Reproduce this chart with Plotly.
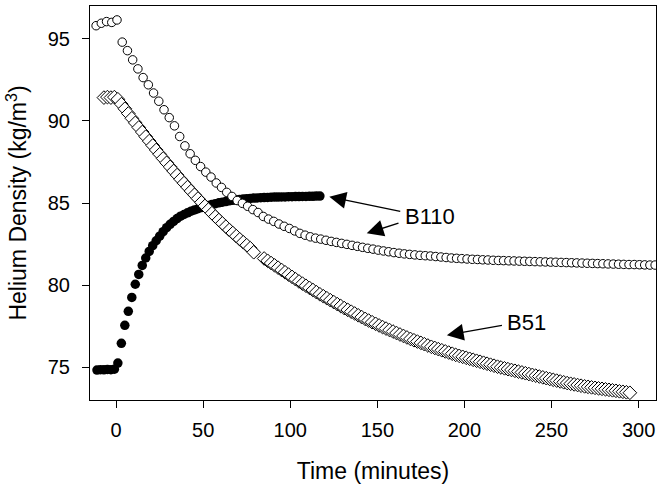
import plotly.graph_objects as go

# B110 open circles (time in minutes, density kg/m3)
b110_open_t = [-11.5, -8.5, -5.5, -2.5, 0.5, 3.5, 6.5, 9.5, 12.5, 15.5, 18.5, 21.5, 24.5, 27.5, 30.5,
               33.5, 36.5, 39.5, 42.5, 45.5, 48.5, 51.5, 54.5, 57.5, 60.5, 63.5, 66.5, 69.5, 72.5, 75.5,
               78.5, 81.5, 84.5, 87.5, 90.5, 93.5, 96.5, 99.5, 102.5, 105.5, 108.5, 111.5, 114.5, 117.5,
               120.5, 123.5, 126.5, 129.5, 132.5, 135.5, 138.5, 141.5, 144.5, 147.5, 150.5, 153.5, 156.5,
               159.5, 162.5, 165.5, 168.5, 171.5, 174.5, 177.5, 180.5, 183.5, 186.5, 189.5, 192.5, 195.5,
               198.5, 201.5, 204.5, 207.5, 210.5, 213.5, 216.5, 219.5, 222.5, 225.5, 228.5, 231.5, 234.5,
               237.5, 240.5, 243.5, 246.5, 249.5, 252.5, 255.5, 258.5, 261.5, 264.5, 267.5, 270.5, 273.5,
               276.5, 279.5, 282.5, 285.5, 288.5, 291.5, 294.5, 297.5, 300.5, 303.5, 306.5, 309.5]
b110_open_y = [95.8, 95.95, 96.05, 96.0, 96.15, 94.8, 94.28, 93.72, 93.17, 92.64, 92.2, 91.7, 91.2, 90.68, 90.2,
               89.7, 89.05, 88.48, 88.0, 87.6, 87.22, 86.88, 86.58, 86.22, 85.95, 85.65, 85.4, 85.15, 84.98, 84.8,
               84.6, 84.42, 84.18, 84.02, 83.88, 83.72, 83.58, 83.45, 83.3, 83.15, 83.04, 82.94, 82.86, 82.8,
               82.73, 82.66, 82.6, 82.54, 82.48, 82.42, 82.36, 82.3, 82.24, 82.19, 82.13, 82.08, 82.03,
               81.98, 81.94, 81.9, 81.87, 81.84, 81.81, 81.79, 81.77, 81.74, 81.71, 81.68, 81.65, 81.63,
               81.61, 81.59, 81.57, 81.56, 81.54, 81.53, 81.51, 81.5, 81.49, 81.48, 81.47, 81.46, 81.45,
               81.44, 81.43, 81.42, 81.41, 81.4, 81.39, 81.38, 81.37, 81.36, 81.35, 81.34, 81.33, 81.32,
               81.31, 81.3, 81.29, 81.28, 81.27, 81.26, 81.25, 81.25, 81.24, 81.23, 81.22, 81.22]

# B110 filled circles
b110_fill_t = [-11, -9, -7, -5, -3, -1, 1, 3, 5, 7, 9, 11, 13, 15, 17, 19, 21, 23, 25, 27, 29, 31, 33, 35,
               37, 39, 41, 43, 45, 47, 49, 51, 53, 55, 57, 59, 61, 63, 65, 67, 69, 71, 73, 75, 77, 79, 81,
               83, 85, 87, 89, 91, 93, 95, 97, 99, 101, 103, 105, 107, 109, 111, 113, 115, 117]
b110_fill_y = [74.82, 74.85, 74.84, 74.86, 74.85, 74.88, 75.25, 76.45, 77.55, 78.4, 79.25, 80.05, 80.65,
               81.2, 81.65, 82.05, 82.4, 82.7, 82.98, 83.25, 83.5, 83.7, 83.88, 84.05, 84.2, 84.3, 84.4,
               84.5, 84.58, 84.65, 84.72, 84.79, 84.85, 84.91, 84.96, 85.01, 85.05, 85.09, 85.13, 85.16,
               85.19, 85.22, 85.24, 85.26, 85.28, 85.3, 85.31, 85.32, 85.33, 85.34, 85.35, 85.36, 85.36,
               85.37, 85.37, 85.38, 85.38, 85.39, 85.39, 85.4, 85.4, 85.41, 85.41, 85.42, 85.42]

# B51 open diamonds
b51_t = [-7, -5, -3, -1, 1, 3, 5, 7, 9, 11, 13, 15, 17, 19, 21, 23, 25, 27, 29, 31, 33, 35, 37, 39, 41,
         43, 45, 47, 49, 51, 53, 55, 57, 59, 61, 63, 65, 67, 69, 71, 73, 75, 77, 79,
         85, 87, 89, 91, 93, 95, 97, 99, 101, 103, 105, 107, 109, 111, 113, 115, 117, 119, 121, 123,
         125, 127, 129, 131, 133, 135, 137, 139, 141, 143, 145, 147, 149, 151, 153, 155, 157, 159, 161,
         163, 165, 167, 169, 171, 173, 175, 177, 179, 181, 183, 185, 187, 189, 191, 193, 195, 197, 199,
         201, 203, 205, 207, 209, 211, 213, 215, 217, 219, 221, 223, 225, 227, 229, 231, 233, 235, 237,
         239, 241, 243, 245, 247, 249, 251, 253, 255, 257, 259, 261, 263, 265, 267, 269, 271, 273, 275,
         277, 279, 281, 283, 285, 287, 289, 291, 293, 295]
b51_y = [91.42, 91.45, 91.42, 91.45, 91.32, 91.02, 90.74, 90.45, 90.16, 89.88, 89.6, 89.32, 89.04, 88.77,
         88.5, 88.23, 87.97, 87.71, 87.45, 87.2, 86.95, 86.7, 86.45, 86.21, 85.97, 85.73, 85.5, 85.27,
         85.04, 84.82, 84.6, 84.38, 84.17, 83.96, 83.76, 83.56, 83.36, 83.17, 82.98, 82.79, 82.61, 82.43,
         82.25, 82.0,
         81.62, 81.48, 81.34, 81.2, 81.06, 80.92, 80.78, 80.64, 80.5, 80.36, 80.22, 80.09, 79.96, 79.83,
         79.7, 79.57, 79.44, 79.32, 79.2, 79.08, 78.96, 78.84, 78.72, 78.6, 78.49, 78.38, 78.27, 78.16,
         78.05, 77.94, 77.84, 77.74, 77.64, 77.54, 77.44, 77.35, 77.26, 77.17, 77.08, 76.99, 76.9, 76.81,
         76.72, 76.64, 76.56, 76.48, 76.4, 76.32, 76.24, 76.17, 76.1, 76.03, 75.96, 75.89, 75.82, 75.75,
         75.69, 75.63, 75.57, 75.51, 75.45, 75.39, 75.33, 75.27, 75.21, 75.15, 75.09, 75.03, 74.98, 74.93,
         74.88, 74.83, 74.78, 74.73, 74.68, 74.63, 74.58, 74.53, 74.48, 74.43, 74.38, 74.33, 74.28, 74.23,
         74.18, 74.13, 74.08, 74.03, 73.99, 73.95, 73.91, 73.87, 73.83, 73.8, 73.77, 73.74, 73.71, 73.68,
         73.65, 73.62, 73.59, 73.56, 73.53, 73.5, 73.47, 73.44]

assert len(b110_open_t) == len(b110_open_y)
assert len(b110_fill_t) == len(b110_fill_y)
assert len(b51_t) == len(b51_y)

x_ticks = [0, 50, 100, 150, 200, 250, 300]
y_ticks = [75, 80, 85, 90, 95]

FONT = "Liberation Sans, Arial, sans-serif"

fig = go.Figure()
fig.add_trace(go.Scatter(x=b110_fill_t, y=b110_fill_y, mode="markers", cliponaxis=True,
                         marker=dict(symbol="circle", size=9.5, color="black",
                                     line=dict(color="black", width=0))))
fig.add_trace(go.Scatter(x=b110_open_t, y=b110_open_y, mode="markers", cliponaxis=True,
                         marker=dict(symbol="circle", size=8.5, color="white",
                                     line=dict(color="black", width=1))))
fig.add_trace(go.Scatter(x=b51_t, y=b51_y, mode="markers", cliponaxis=True,
                         marker=dict(symbol="diamond", size=10.5, color="white",
                                     line=dict(color="black", width=1))))

arrows = [
    # (tail_x, tail_y, tip_x, tip_y)
    (164.0, 84.47, 122.4, 85.38),
    (163.0, 83.8, 143.9, 83.15),
    (222.4, 77.56, 189.9, 76.95),
]
for tx, ty, hx, hy in arrows:
    fig.add_annotation(x=hx, y=hy, ax=tx, ay=ty, xref="x", yref="y", axref="x", ayref="y",
                       text="", showarrow=True, arrowhead=2, arrowsize=2.4, arrowwidth=1.4,
                       arrowcolor="black", standoff=0, startstandoff=0)

labels = [("B110", 180.3, 84.2), ("B51", 235.5, 77.74)]
for txt, lx, ly in labels:
    fig.add_annotation(x=lx, y=ly, xref="x", yref="y", text=txt, showarrow=False,
                       font=dict(family=FONT, size=22, color="black"))

axis_common = dict(showgrid=False, zeroline=False, showline=True, mirror=True,
                   linecolor="black", linewidth=1, ticks="outside", ticklen=7,
                   tickcolor="black", tickwidth=1, automargin=False,
                   tickfont=dict(family=FONT, size=20, color="black"))

fig.update_layout(
    width=658, height=492,
    margin=dict(l=90, r=2, t=6, b=92),
    paper_bgcolor="white", plot_bgcolor="white",
    showlegend=False,
    font=dict(family=FONT, color="black"),
    xaxis=dict(range=[-15, 310], tickvals=x_ticks, ticklabelstandoff=5,
               title=dict(text="Time (minutes)", font=dict(family=FONT, size=23), standoff=22),
               **axis_common),
    yaxis=dict(range=[73, 97], tickvals=y_ticks, ticklabelstandoff=8,
               title=dict(text="Helium Density (kg/m<sup>3</sup>)", font=dict(family=FONT, size=23),
                          standoff=14),
               **axis_common),
)

fig.write_html("out.html", config={"displayModeBar": False},
               post_script="document.body.style.margin='0';document.body.style.overflow='hidden';")
